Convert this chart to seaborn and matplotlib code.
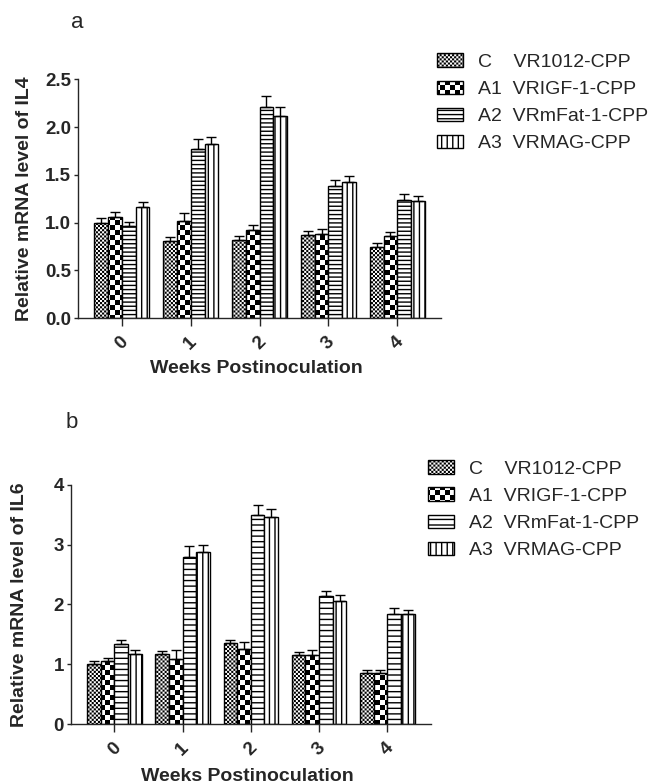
import warnings
import numpy as np
import pandas as pd
import seaborn as sns
import matplotlib
matplotlib.use("Agg")
import matplotlib.pyplot as plt
import matplotlib.patches as mpatches
import matplotlib.hatch as mhatch
from matplotlib.path import Path

warnings.filterwarnings("ignore", message="hatch must consist")

weeks = ["0", "1", "2", "3", "4"]
groups = ["C    VR1012-CPP", "A1  VRIGF-1-CPP", "A2  VRmFat-1-CPP", "A3  VRMAG-CPP"]

il4_c = [1.00, 0.81, 0.82, 0.87, 0.75]
il4_a1 = [1.06, 1.02, 0.92, 0.88, 0.86]
il4_a2 = [0.97, 1.77, 2.21, 1.38, 1.24]
il4_a3 = [1.16, 1.82, 2.12, 1.43, 1.23]
il4_c_err = [0.05, 0.04, 0.04, 0.04, 0.04]
il4_a1_err = [0.05, 0.08, 0.06, 0.05, 0.04]
il4_a2_err = [0.04, 0.10, 0.11, 0.07, 0.06]
il4_a3_err = [0.06, 0.08, 0.09, 0.06, 0.05]

il6_c = [1.00, 1.17, 1.35, 1.15, 0.86]
il6_a1 = [1.05, 1.09, 1.26, 1.15, 0.85]
il6_a2 = [1.34, 2.80, 3.49, 2.14, 1.84]
il6_a3 = [1.17, 2.87, 3.47, 2.05, 1.84]
il6_c_err = [0.05, 0.05, 0.06, 0.05, 0.04]
il6_a1_err = [0.05, 0.14, 0.12, 0.08, 0.05]
il6_a2_err = [0.06, 0.17, 0.18, 0.09, 0.10]
il6_a3_err = [0.06, 0.12, 0.13, 0.10, 0.06]


# checkerboard hatch ('c'), matplotlib has none built in
class Checker(mhatch.HatchPatternBase):
    def __init__(self, hatch, density):
        self.n = 2 * (hatch.count("c") * density // 3)
        self.num_vertices = (self.n * self.n // 2) * 5

    def set_vertices_and_codes(self, vertices, codes):
        s = 1.0 / self.n
        d = 0.007
        k = 0
        for i in range(self.n):
            for j in range(self.n):
                if (i + j) % 2:
                    continue
                x0, y0 = i * s + d, j * s + d
                x1, y1 = (i + 1) * s - d, (j + 1) * s - d
                vertices[k:k + 5] = [[x0, y0], [x1, y0], [x1, y1], [x0, y1], [x0, y0]]
                codes[k:k + 5] = [Path.MOVETO, Path.LINETO, Path.LINETO, Path.LINETO, Path.CLOSEPOLY]
                k += 5


mhatch._hatch_types.append(Checker)

sns.set_style("ticks")
plt.rcParams["font.family"] = ["Liberation Sans", "DejaVu Sans"]
plt.rcParams["hatch.linewidth"] = 1.0
plt.rcParams["axes.linewidth"] = 1.0


def panel(ax, means, errs, hatches, ylim, yticks, fmt, ylabel, ylab_x, xlab_y):
    df = pd.DataFrame({
        "week": weeks * 4,
        "group": np.repeat(groups, len(weeks)),
        "value": sum(means, []),
    })
    sns.barplot(data=df, x="week", y="value", hue="group", hue_order=groups,
                palette=["white"] * 4, saturation=1, edgecolor="black",
                linewidth=1, errorbar=None, legend=False, ax=ax)
    for cont, h, e in zip(ax.containers, hatches, errs):
        xs, ys = [], []
        for p in cont:
            p.set_hatch(h)
            xs.append(p.get_x() + p.get_width() / 2)
            ys.append(p.get_height())
        ax.errorbar(xs, ys, yerr=[np.zeros(len(e)), e], fmt="none",
                    ecolor="black", elinewidth=1, capsize=3.5, capthick=1)
    ax.set_ylim(*ylim)
    ax.set_yticks(yticks)
    ax.set_yticklabels([fmt.format(t) for t in yticks], fontsize=13.5, fontweight="bold")
    ax.set_xticks(range(len(weeks)))
    ax.set_xticklabels(weeks, rotation=45, fontsize=13.5, fontweight="bold")
    ax.tick_params(axis="x", length=6, width=1, pad=5)
    ax.tick_params(axis="y", length=3, width=1, pad=2)
    sns.despine(ax=ax)
    ax.set_ylabel(ylabel, fontsize=14, fontweight="bold")
    ax.yaxis.set_label_coords(ylab_x, 0.5)
    ax.set_xlabel("Weeks Postinoculation", fontsize=14, fontweight="bold", va="top")
    ax.xaxis.set_label_coords(0.49, xlab_y)


fig = plt.figure(figsize=(6.49, 7.84), dpi=100)
ax_a = fig.add_axes([0.120, 0.594, 0.560, 0.305])
ax_b = fig.add_axes([0.109, 0.0765, 0.555, 0.305])

hatch_a = ["c" * 12, "c" * 5, "----", "|||"]
hatch_b = ["c" * 12, "c" * 5, "---", "|||"]

panel(ax_a, [il4_c, il4_a1, il4_a2, il4_a3],
      [il4_c_err, il4_a1_err, il4_a2_err, il4_a3_err], hatch_a,
      (0, 2.5), [0.0, 0.5, 1.0, 1.5, 2.0, 2.5], "{:.1f}",
      "Relative mRNA level of IL4", -0.124, -0.176)
panel(ax_b, [il6_c, il6_a1, il6_a2, il6_a3],
      [il6_c_err, il6_a1_err, il6_a2_err, il6_a3_err], hatch_b,
      (0, 4), [0, 1, 2, 3, 4], "{:d}",
      "Relative mRNA level of IL6", -0.119, -0.184)

for ax, hatches, anchor in [(ax_a, hatch_a, (0.673, 0.932)), (ax_b, hatch_b, (0.659, 0.413))]:
    handles = [mpatches.Patch(facecolor="white", edgecolor="black", linewidth=1,
                              hatch=h, label=g) for h, g in zip(hatches, groups)]
    ax.legend(handles=handles, loc="upper left", bbox_to_anchor=anchor,
              bbox_transform=fig.transFigure, frameon=False, fontsize=14,
              borderaxespad=0, borderpad=0, handlelength=1.35, handleheight=0.68,
              handletextpad=0.75, labelspacing=0.5)

fig.text(77 / 649, 1 - 22 / 784, "a", fontsize=16, ha="center", va="center")
fig.text(72 / 649, 1 - 423 / 784, "b", fontsize=16, ha="center", va="center")

fig.savefig("out.png", dpi=100)
